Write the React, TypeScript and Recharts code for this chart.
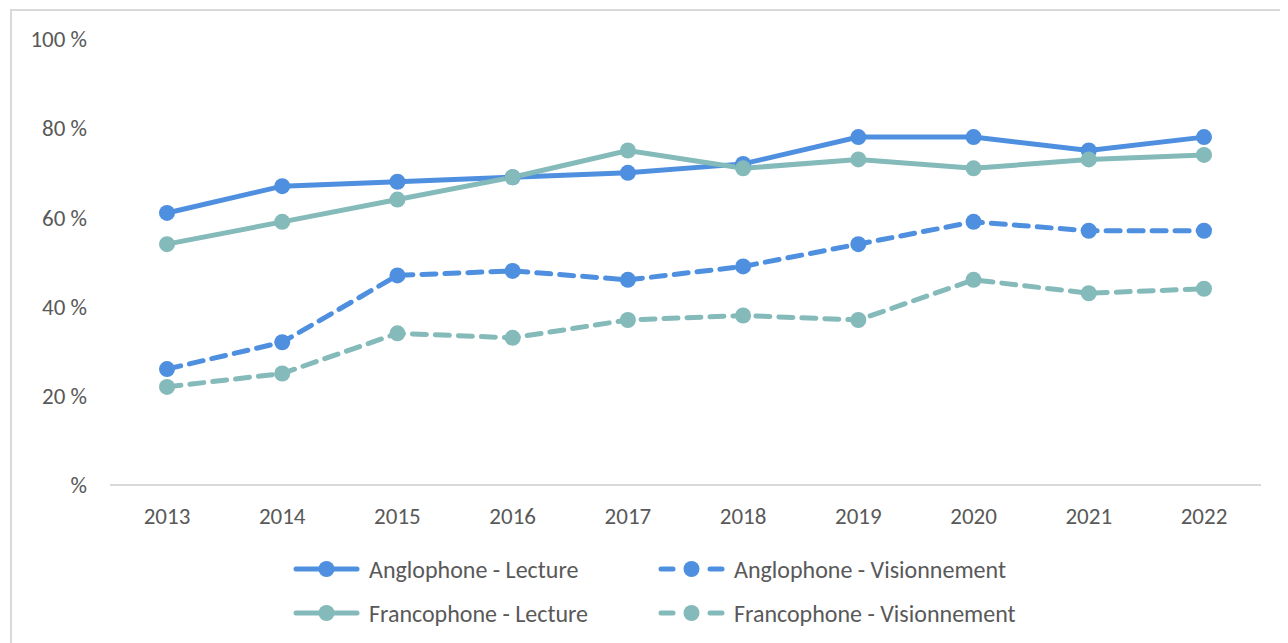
import React from "react";
import { LineChart, Line, XAxis, YAxis, Legend } from "recharts";

const years = ["2013", "2014", "2015", "2016", "2017", "2018", "2019", "2020", "2021", "2022"];
const angloLecture = [61, 67, 68, 69, 70, 72, 78, 78, 75, 78];
const angloVision = [26, 32, 47, 48, 46, 49, 54, 59, 57, 57];
const francoLecture = [54, 59, 64, 69, 75, 71, 73, 71, 73, 74];
const francoVision = [22, 25, 34, 33, 37, 38, 37, 46, 43, 44];
const yTicks = [0, 20, 40, 60, 80, 100];

const seriesNames = {
  al: "Anglophone - Lecture",
  av: "Anglophone - Visionnement",
  fl: "Francophone - Lecture",
  fv: "Francophone - Visionnement",
};

const data = years.map((y, i) => ({
  year: y,
  al: angloLecture[i],
  av: angloVision[i],
  fl: francoLecture[i],
  fv: francoVision[i],
}));

const BLUE = "#4E8FDF";
const TEAL = "#84BAB9";
const TEXT = "#595959";
const FONT = "Carlito, 'Liberation Sans Narrow', 'Open Sans', sans-serif";

const legendItems = [
  { key: "al", color: BLUE, dashed: false, col: 0, row: 0 },
  { key: "av", color: BLUE, dashed: true, col: 1, row: 0 },
  { key: "fl", color: TEAL, dashed: false, col: 0, row: 1 },
  { key: "fv", color: TEAL, dashed: true, col: 1, row: 1 },
];

const LegendContent = () => (
  <div style={{ position: "relative", width: 1276, height: 90, fontFamily: FONT }}>
    {legendItems.map((it) => (
      <div
        key={it.key}
        style={{
          position: "absolute",
          left: it.col === 0 ? 281 : 646,
          top: it.row * 44,
          height: 24,
          display: "flex",
          alignItems: "center",
          whiteSpace: "nowrap",
        }}
      >
        <svg width={67} height={20} style={{ marginRight: 9 }}>
          {it.dashed ? (
            <>
              <line x1={3} y1={10} x2={15} y2={10} stroke={it.color} strokeWidth={5} strokeLinecap="round" />
              <line x1={52} y1={10} x2={64} y2={10} stroke={it.color} strokeWidth={5} strokeLinecap="round" />
            </>
          ) : (
            <line x1={3} y1={10} x2={64} y2={10} stroke={it.color} strokeWidth={5} strokeLinecap="round" />
          )}
          <circle cx={33.5} cy={10} r={8} fill={it.color} />
        </svg>
        <span style={{ fontSize: 24, color: TEXT }}>{(seriesNames as any)[it.key]}</span>
      </div>
    ))}
  </div>
);

export default function App() {
  const lines = [
    { key: "al", color: BLUE, dash: undefined },
    { key: "av", color: BLUE, dash: "14 9" },
    { key: "fl", color: TEAL, dash: undefined },
    { key: "fv", color: TEAL, dash: "14 9" },
  ];
  return (
    <div
      style={{
        marginLeft: 2,
        marginTop: 1,
        borderLeft: "2px solid #d9d9d9",
        borderTop: "2px solid #d9d9d9",
        width: 1276,
        height: 632,
      }}
    >
      <LineChart
        width={1276}
        height={632}
        data={data}
        margin={{ top: 28, right: 27, bottom: 18, left: 18 }}
      >
        <XAxis
          dataKey="year"
          padding={{ left: 57, right: 57 }}
          tickLine={false}
          tickSize={0}
          tickMargin={23}
          axisLine={{ stroke: "#d9d9d9", strokeWidth: 2 }}
          tick={{ fill: TEXT, fontSize: 23, fontFamily: FONT }}
          height={50}
        />
        <YAxis
          domain={[0, 100]}
          ticks={yTicks}
          width={80}
          axisLine={false}
          tickLine={false}
          tickSize={0}
          tickMargin={23}
          tickFormatter={(v: number) => (v === 0 ? "%" : `${v} %`)}
          tick={{ fill: TEXT, fontSize: 23, fontFamily: FONT }}
        />
        <Legend
          content={<LegendContent />}
          wrapperStyle={{ left: 0, top: 546, width: 1276, height: 90 }}
        />
        {lines.map((l) => (
          <Line
            key={l.key}
            type="linear"
            dataKey={l.key}
            name={(seriesNames as any)[l.key]}
            stroke={l.color}
            strokeWidth={5}
            strokeDasharray={l.dash}
            strokeLinecap="round"
            dot={{ r: 8, fill: l.color, stroke: "none" }}
            activeDot={false}
            isAnimationActive={false}
          />
        ))}
      </LineChart>
    </div>
  );
}
